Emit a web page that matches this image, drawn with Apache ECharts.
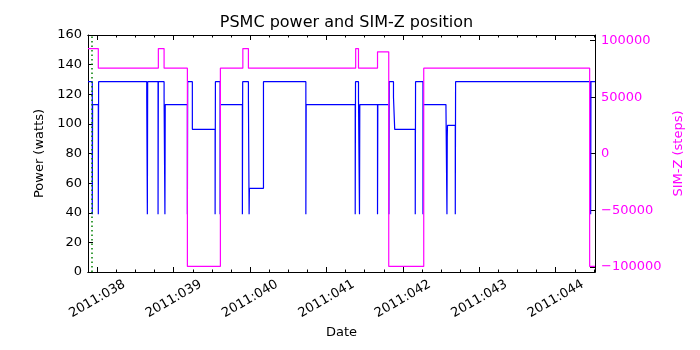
<!DOCTYPE html>
<html>
<head>
<meta charset="utf-8">
<script src="https://cdn.jsdelivr.net/npm/echarts@6/dist/echarts.min.js"></script>
<style>
  html, body { margin: 0; padding: 0; background: #fff; }
  #chart { width: 700px; height: 350px; }
</style>
</head>
<body>
<div id="chart"></div>
<script>
// Time axis is day-of-year 2011 (fractional days).
const xRange = [37.878, 44.515];
const xTickDays = [38, 39, 40, 41, 42, 43, 44];
const xTickLabels = ['2011:038', '2011:039', '2011:040', '2011:041', '2011:042', '2011:043', '2011:044'];

// PSMC power (watts), held from each time until the next one.
const powerTimes = [
  37.878, 37.934, 37.938, 38.013, 38.017, 38.647, 38.655, 38.659, 38.795, 38.799,
  38.874, 38.885, 38.889, 39.179, 39.183, 39.244, 39.542, 39.546, 39.607, 39.611,
  39.899, 39.903, 39.978, 39.987, 39.991, 40.175, 40.730, 40.734, 41.376, 41.380,
  41.419, 41.432, 41.436, 41.668, 41.672, 41.817, 41.821, 41.877, 41.893, 42.162,
  42.166, 42.263, 42.267, 42.564, 42.577, 42.581, 42.584, 42.686, 42.690, 44.458,
  44.462, 44.515
];
const powerWatts = [
  128.5, 39, 113, 39, 128.5, 118, 39, 128.5, 39, 128.5,
  118, 39, 113, 39, 128.5, 96.3, 39, 128.5, 39, 113,
  39, 128.5, 118, 39, 56.5, 128.5, 39, 113, 39, 128.5,
  118, 39, 113, 39, 113, 39, 128.5, 118, 96.3, 39,
  128.5, 39, 113, 111, 39, 91, 99, 39, 128.5, 39,
  128.5, 128.5
];

// SIM-Z translation table position (steps), held until the next time.
const simzTimes = [
  37.878, 38.013, 38.799, 38.874, 39.179, 39.611, 39.905, 39.978, 41.382, 41.419,
  41.668, 41.815, 42.273, 44.445, 44.515
];
const simzSteps = [
  92904, 75624, 92904, 75624, -99616, 75624, 92904, 75624, 92904, 75624,
  90000, -99616, 75624, -99616, -99616
];

// Time of the dotted reference marker.
const markerDay = 37.934;

const powerTicks = [0, 20, 40, 60, 80, 100, 120, 140, 160];
const simzTicks = [-100000, -50000, 0, 50000, 100000];
const simzRange = [-104500, 104900];

// Quarter-day minor tick positions inside the visible range.
const minorDays = [];
for (let d = 37.75; d <= 44.5; d += 0.25) {
  if (d >= xRange[0] && d <= xRange[1]) minorDays.push(d);
}

const FONT = 'DejaVu Sans';
const zip = (a, b) => a.map((v, i) => [v, b[i]]);
const frameLine = { show: true, onZero: false, lineStyle: { color: '#000', width: 1 } };

function timeAxis(position, withLabels, tickValues, tickLen) {
  return {
    type: 'value',
    position: position,
    min: xRange[0],
    max: xRange[1],
    axisLine: frameLine,
    splitLine: { show: false },
    axisTick: {
      show: true, inside: true, length: tickLen,
      customValues: tickValues,
      lineStyle: { color: '#000', width: 1 }
    },
    axisLabel: withLabels ? {
      show: true,
      customValues: xTickDays,
      formatter: v => {
        const i = xTickDays.findIndex(d => Math.abs(d - v) < 1e-6);
        return i >= 0 ? xTickLabels[i] : '';
      },
      rotate: 30,
      align: 'center',
      verticalAlign: 'middle',
      margin: 27,
      color: '#000',
      fontFamily: FONT,
      fontSize: 13
    } : { show: false }
  };
}

const chart = echarts.init(document.getElementById('chart'), null, { renderer: 'canvas' });

const xAxes = [
  timeAxis('bottom', true, xTickDays, 5),
  timeAxis('bottom', false, minorDays, 2.5),
  timeAxis('top', false, xTickDays, 5),
  timeAxis('top', false, minorDays, 2.5)
];
xAxes[0].name = 'Date';
xAxes[0].nameLocation = 'middle';
xAxes[0].nameGap = 54;
xAxes[0].nameTextStyle = { color: '#000', fontFamily: FONT, fontSize: 13 };

chart.setOption({
  animation: false,
  backgroundColor: '#fff',
  title: {
    text: 'PSMC power and SIM-Z position',
    left: 341.5,
    textAlign: 'center',
    top: 10,
    textStyle: { color: '#000', fontFamily: FONT, fontSize: 16, fontWeight: 'normal' }
  },
  grid: { left: 88, right: 105, top: 35, bottom: 78 },
  xAxis: xAxes,
  yAxis: [
    {
      type: 'value', position: 'left',
      min: 0, max: 160, interval: 20,
      axisLine: frameLine,
      splitLine: { show: false },
      axisTick: {
        show: true, inside: true, length: 5,
        customValues: powerTicks,
        lineStyle: { color: '#000', width: 1 }
      },
      axisLabel: {
        customValues: powerTicks,
        color: '#000', fontFamily: FONT, fontSize: 13, margin: 6
      },
      name: 'Power (watts)',
      nameLocation: 'middle',
      nameGap: 35,
      nameRotate: 90,
      nameTextStyle: { color: '#000', fontFamily: FONT, fontSize: 13 }
    },
    {
      type: 'value', position: 'right',
      min: simzRange[0], max: simzRange[1],
      axisLine: frameLine,
      splitLine: { show: false },
      axisTick: {
        show: true, inside: true, length: 5,
        customValues: simzTicks,
        lineStyle: { color: '#000', width: 1 }
      },
      axisLabel: {
        customValues: simzTicks,
        formatter: v => String(v).replace('-', '\u2212'),
        color: '#ff00ff', fontFamily: FONT, fontSize: 13, margin: 6
      },
      name: 'SIM-Z (steps)',
      nameLocation: 'middle',
      nameGap: 68,
      nameRotate: 90,
      nameTextStyle: { color: '#ff00ff', fontFamily: FONT, fontSize: 13 }
    }
  ],
  series: [
    {
      name: 'PSMC power',
      type: 'line',
      xAxisIndex: 0,
      yAxisIndex: 0,
      step: 'end',
      showSymbol: false,
      symbol: 'none',
      data: zip(powerTimes, powerWatts),
      lineStyle: { color: '#0000ff', width: 1.2 },
      markLine: {
        silent: true,
        symbol: 'none',
        label: { show: false },
        data: [{ xAxis: markerDay }],
        lineStyle: { color: '#008000', type: [1.5, 3], width: 1.5 }
      }
    },
    {
      name: 'SIM-Z',
      type: 'line',
      xAxisIndex: 0,
      yAxisIndex: 1,
      step: 'end',
      showSymbol: false,
      symbol: 'none',
      data: zip(simzTimes, simzSteps),
      lineStyle: { color: '#ff00ff', width: 1.2 }
    }
  ]
});
</script>
</body>
</html>
